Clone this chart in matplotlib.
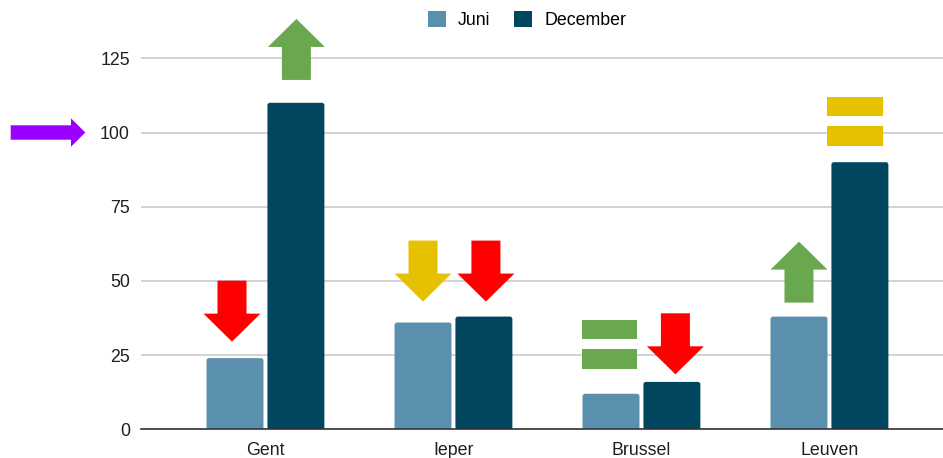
import matplotlib
matplotlib.use("Agg")
import matplotlib.pyplot as plt
from matplotlib.patches import Polygon, Rectangle, FancyBboxPatch
from matplotlib.transforms import IdentityTransform
import numpy as np

plt.rcParams["font.family"] = ["Liberation Sans", "DejaVu Sans"]

# --- data -------------------------------------------------------------
steden = ["Gent", "Ieper", "Brussel", "Leuven"]
juni = [24, 36, 12, 38]
december = [110, 38, 16, 90]
y_ticks = [0, 25, 50, 75, 100, 125]

# trend markers: (city index, series, kind, colour, anchor value)
# kind "down": anchor = top of arrow, "up": anchor = bottom of arrow,
# "equal": anchor = top of the upper bar
trends = [
    (0, "Juni", "down", "#ff0000", 50.1),
    (0, "December", "up", "#6aa84f", 117.7),
    (1, "Juni", "down", "#e6c100", 63.6),
    (1, "December", "down", "#ff0000", 63.6),
    (2, "Juni", "equal", "#6aa84f", 36.8),
    (2, "December", "down", "#ff0000", 39.1),
    (3, "Juni", "up", "#6aa84f", 42.7),
    (3, "December", "equal", "#e6c100", 111.9),
]
# horizontal nudge of each marker, in pixels
trend_dx = [-3, 0.5, 0, 2, -1.7, 3.5, 0, -4.7]
reference_level = 100

# --- figure -----------------------------------------------------------
W, H, DPI = 943, 458, 100
fig = plt.figure(figsize=(W / DPI, H / DPI), dpi=DPI)

px_per_unit = 2.969
y_top = 130
ax_left, ax_right, ax_base = 141, 943, 429.4
ax = fig.add_axes([ax_left / W, (H - ax_base) / H,
                   (ax_right - ax_left) / W, y_top * px_per_unit / H])

col_juni = "#5a90ad"
col_dec = "#01465f"
bar_w = 0.303
off = 0.162
x = np.arange(len(steden))

ax.set_xlim(-0.662, 3.604)
ax.set_ylim(0, y_top)

bars_j = ax.bar(x - off, juni, bar_w, color=col_juni, zorder=3)
bars_d = ax.bar(x + off, december, bar_w, color=col_dec, zorder=3)

# soften the bar corners
px_per_x = (ax_right - ax_left) / (3.604 + 0.662)
r_x = 2.5 / px_per_x
aspect = (2.5 / px_per_unit) / r_x
for bars in (bars_j, bars_d):
    for b in bars:
        b.set_visible(False)
        ax.add_patch(FancyBboxPatch(
            (b.get_x(), b.get_y()), b.get_width(), b.get_height(),
            boxstyle=f"round,pad=0,rounding_size={r_x}",
            mutation_aspect=aspect, facecolor=b.get_facecolor(),
            edgecolor="none", zorder=3))

ax.set_yticks(y_ticks)
ax.set_xticks(x)
ax.set_xticklabels(steden)
ax.grid(axis="y", color="#cccccc", linewidth=1.2, zorder=0)
for s in ("top", "right", "left"):
    ax.spines[s].set_visible(False)
ax.spines["bottom"].set_color("#333333")
ax.spines["bottom"].set_linewidth(1.2)
ax.spines["bottom"].set_zorder(4)
ax.tick_params(axis="both", length=0, labelsize=12.8, labelcolor="#1f1f1f")
ax.tick_params(axis="y", pad=8)
ax.tick_params(axis="x", pad=9)

# legend
handles = [Rectangle((0, 0), 1, 1, facecolor=col_juni),
           Rectangle((0, 0), 1, 1, facecolor=col_dec)]
fig.legend(handles, ["Juni", "December"], loc="upper center",
           bbox_to_anchor=(527 / W, 1 - 2 / H), ncol=2, frameon=False,
           fontsize=12.8, handlelength=1.0, handleheight=1.0,
           handletextpad=0.7, columnspacing=1.3, borderpad=0)

# --- trend markers (shape sizes in pixels) -----------------------------
fig.canvas.draw()
to_px = ax.transData.transform

AW, SW, AL, HL = 57, 29, 61, 28   # arrow width, shaft width, length, head


def add_shape(verts, colour):
    fig.add_artist(Polygon(verts, closed=True, facecolor=colour,
                           edgecolor="none", transform=IdentityTransform(),
                           clip_on=False, zorder=5))


for (idx, series, kind, colour, val), dx in zip(trends, trend_dx):
    cx = idx - off if series == "Juni" else idx + off
    px, py = to_px((cx, val))
    px += dx
    if kind == "down":
        v = [(-SW / 2, 0), (SW / 2, 0), (SW / 2, -(AL - HL)),
             (AW / 2, -(AL - HL)), (0, -AL), (-AW / 2, -(AL - HL)),
             (-SW / 2, -(AL - HL))]
        add_shape([(px + a, py + b) for a, b in v], colour)
    elif kind == "up":
        v = [(-SW / 2, 0), (SW / 2, 0), (SW / 2, AL - HL),
             (AW / 2, AL - HL), (0, AL), (-AW / 2, AL - HL),
             (-SW / 2, AL - HL)]
        add_shape([(px + a, py + b) for a, b in v], colour)
    else:
        ew, eh, gap = 55.5, 19.3, 10
        for k in range(2):
            top = py - k * (eh + gap)
            v = [(-ew / 2, top), (ew / 2, top), (ew / 2, top - eh),
                 (-ew / 2, top - eh)]
            add_shape([(px + a, b) for a, b in v], colour)

# pointer at the reference level, left of the axis
_, ry = to_px((0, reference_level))
x0, xb, xt = 10.7, 71, 85.3
sh, hh = 7.2, 14.2
add_shape([(x0, ry + sh), (xb, ry + sh), (xb, ry + hh), (xt, ry),
           (xb, ry - hh), (xb, ry - sh), (x0, ry - sh)], "#9900ff")

fig.savefig("out.png", dpi=DPI)
